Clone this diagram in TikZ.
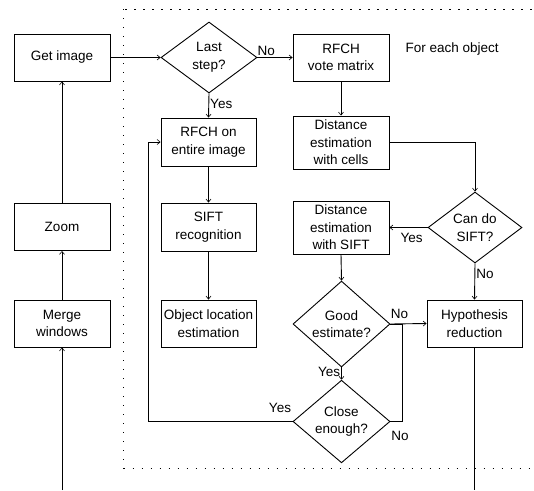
\documentclass[tikz,border=0pt]{standalone}
\usepackage{fontspec}
\setmainfont{Liberation Sans}
\usetikzlibrary{shapes.geometric,arrows.meta,calc}
\begin{document}
\begin{tikzpicture}[x=1pt,y=-1pt,
  font=\fontsize{13.5pt}{17.5pt}\selectfont,
  box/.style={draw,line width=0.9pt,rectangle,inner sep=0pt,minimum width=96pt,minimum height=47pt,align=center},
  dia/.style={draw,line width=0.9pt,diamond,inner sep=0pt,minimum width=96pt,minimum height=71pt,align=center},
  conn/.style={line width=0.9pt},
  arr/.style={conn,-{Straight Barb[length=3pt,width=5pt,line width=0.6pt]}},
  lbl/.style={inner sep=1pt}]
\useasboundingbox (0,0) rectangle (534,490);
\fill[white] (0,0) rectangle (534,490);
% frame
\draw[line width=1pt,dash pattern=on 1.2pt off 7.8pt] (123.5,9) rectangle (534.5,468);
% nodes
\node[box] (get) at (62,57.5) {Get image};
\node[box] (zoom) at (62,227) {Zoom};
\node[box] (merge) at (62,323.5) {Merge\\windows};
\node[dia] (last) at (209,57.5) {Last\\step?};
\node[box] (vote) at (341,57.5) {RFCH\\vote matrix};
\node[anchor=west] (each) at (402,49) {For each object};
\node[box,minimum width=95pt,minimum height=48pt] (entire) at (208.5,142) {RFCH on\\entire image};
\node[box,minimum width=95pt,minimum height=48pt] (sift) at (208.5,227) {SIFT\\recognition};
\node[box,minimum width=95pt] (objloc) at (208.5,323.5) {Object location\\estimation};
\node[box,minimum height=53pt] (cells) at (341,142.5) {Distance\\estimation\\with cells};
\node[box,minimum height=53pt] (dsift) at (341,227.5) {Distance\\estimation\\with SIFT};
\node[dia,minimum width=94pt,minimum height=69pt] (cando) at (475,227.5) {Can do\\SIFT?};
\node[box,minimum width=95pt] (hyp) at (474.5,323.5) {Hypothesis\\reduction};
\node[dia,minimum width=97pt,minimum height=70pt] (good) at (341.5,324) {Good\\estimate?};
\node[dia,minimum width=97pt,minimum height=71pt] (close) at (341.5,421.5) {Close\\enough?};
% free ends
\coordinate (bl) at (62,490);
\coordinate (br) at (474.5,490);
\coordinate (jn) at (402,421.5);
\coordinate (lp) at (148,421.5);
% connectors
\draw[arr] (bl) -- (merge.south);
\draw[arr] (merge.north) -- (zoom.south);
\draw[arr] (zoom.north) -- (get.south);
\draw[arr] (get.east) -- (last.west);
\draw[arr] (last.east) -- node[lbl,above,pos=0.25] {No} (vote.west);
\draw[arr] (last.south) -- node[lbl,right,pos=0.45] {Yes} (entire.north);
\draw[arr] (entire.south) -- (sift.north);
\draw[arr] (sift.south) -- (objloc.north);
\draw[arr] (vote.south) -- (cells.north);
\draw[arr] (cells.east) -| (cando.north);
\draw[arr] (cando.west) -- node[lbl,below=4pt,pos=0.42] {Yes} (dsift.east);
\draw[arr] (cando.south) -- node[lbl,right,pos=0.3] {No} (hyp.north);
\draw[arr] (dsift.south) -- (good.north);
\draw[arr] (good.east) -- node[lbl,above=4pt,pos=0.25] {No} (hyp.west);
\draw[arr] (good.south) -- node[lbl,left,pos=0.4] {Yes} (close.north);
\draw[conn] (close.east) -- (jn) |- (good.east);
\node[lbl] (nolbl) at (400,436) {No};
\draw[arr] (close.west) -- (lp) |- (entire.west);
\node[lbl] (yeslbl) at (280,408) {Yes};
\draw[conn] (hyp.south) -- (br);
\end{tikzpicture}
\end{document}
